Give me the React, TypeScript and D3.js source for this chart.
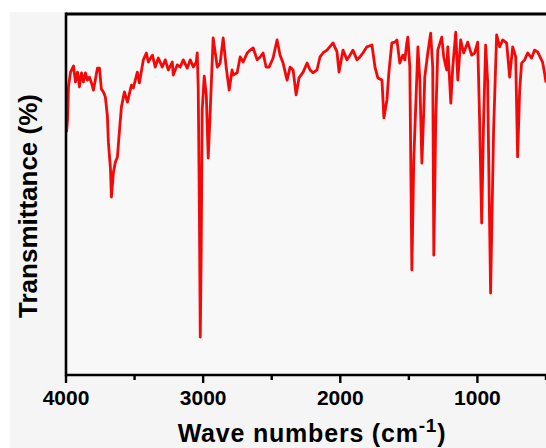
import React from "react";
import * as d3 from "d3";

const wavenumbers = [
  3996, 3989, 3982, 3967, 3945, 3931, 3916, 3902, 3887, 3873, 3858, 3844, 3829, 3814, 3800, 3785, 3771, 3756, 3742, 3727,
  3713, 3698, 3691, 3676, 3669, 3654, 3640, 3625, 3611, 3596, 3574, 3552, 3523, 3509, 3480, 3465, 3436, 3414, 3400, 3370,
  3349, 3327, 3298, 3276, 3254, 3225, 3218, 3189, 3167, 3145, 3116, 3094, 3072, 3050, 3043, 3036, 3028, 3021, 3014, 3007,
  2992, 2977, 2963, 2948, 2927, 2897, 2876, 2854, 2832, 2810, 2789, 2781, 2752, 2730, 2708, 2679, 2657, 2635, 2606, 2584,
  2563, 2541, 2519, 2490, 2461, 2439, 2417, 2388, 2366, 2344, 2322, 2301, 2271, 2242, 2220, 2199, 2170, 2148, 2126, 2097,
  2053, 2024, 2009, 1980, 1951, 1929, 1908, 1878, 1857, 1835, 1806, 1769, 1747, 1726, 1696, 1682, 1660, 1646, 1624, 1602,
  1587, 1566, 1544, 1529, 1515, 1507, 1493, 1478, 1464, 1434, 1420, 1405, 1391, 1384, 1362, 1341, 1326, 1318, 1304, 1289,
  1260, 1246, 1224, 1216, 1194, 1180, 1158, 1143, 1122, 1100, 1071, 1042, 1020, 998, 984, 969, 955, 940, 926, 904,
  882, 860, 838, 816, 787, 765, 743, 721, 707, 692, 678, 656, 634, 605, 583, 561, 525, 511, 500,
];

const transmittance = [
  67.3, 70.6, 79.8, 83.9, 85.6, 81.2, 83.9, 79.8, 83.7, 81.2, 83.7, 81.7, 82.5, 80.9, 78.9, 82.0, 85.0, 85.0, 79.2, 78.4,
  77.0, 71.7, 64.5, 57.3, 49.3, 56.2, 59.0, 60.4, 67.3, 74.2, 78.4, 75.6, 80.3, 79.5, 83.9, 80.9, 87.3, 89.2, 86.7, 88.6,
  85.3, 87.8, 85.3, 87.3, 84.5, 86.7, 83.1, 85.9, 85.3, 87.3, 85.0, 87.3, 85.3, 86.7, 89.2, 79.8, 48.5, 10.5, 34.6, 73.4,
  82.8, 77.6, 60.1, 73.4, 93.4, 85.3, 86.4, 93.4, 85.3, 78.9, 84.5, 83.1, 83.7, 88.1, 86.7, 89.2, 90.0, 90.6, 87.3, 88.1,
  89.2, 85.3, 85.3, 87.8, 92.8, 88.6, 86.4, 81.7, 85.3, 84.5, 77.6, 82.3, 83.9, 86.4, 84.5, 83.7, 84.5, 88.1, 89.2, 90.0,
  92.0, 89.5, 83.9, 90.0, 87.3, 88.6, 90.0, 87.3, 88.1, 89.2, 90.9, 91.4, 85.3, 82.3, 81.7, 71.2, 76.2, 83.7, 92.0, 92.2,
  92.8, 86.4, 88.6, 87.3, 92.0, 93.6, 85.3, 29.1, 59.6, 90.9, 81.7, 58.7, 73.4, 82.5, 89.2, 94.7, 85.3, 33.2, 70.6, 90.0,
  93.6, 88.1, 84.5, 90.9, 75.3, 85.3, 95.0, 81.7, 92.8, 89.2, 92.2, 88.6, 89.2, 92.2, 70.6, 42.1, 70.6, 91.4, 81.7, 22.7,
  67.9, 94.2, 90.9, 92.8, 92.0, 82.5, 90.9, 88.1, 60.4, 78.9, 86.4, 87.3, 89.2, 87.8, 90.0, 89.5, 86.7, 83.7, 81.0,
];

const majorTicks = [4000, 3000, 2000, 1000];
const minorTicks = [3500, 2500, 1500, 500];

const W = 546;
const H = 448;
const left = 66;
const right = 546;
const top = 14;
const bottom = 375;

export default function App() {
  const x = d3.scaleLinear().domain([4000, 500]).range([left, right]);
  const y = d3.scaleLinear().domain([0, 100]).range([bottom, top]);
  const pts: [number, number][] = wavenumbers.map((w, i) => [w, transmittance[i]]);
  const line = d3
    .line<[number, number]>()
    .x((d) => x(d[0]))
    .y((d) => y(d[1]))
    .curve(d3.curveLinear);
  const font = "'Liberation Sans', Arial, sans-serif";
  return (
    <svg width={W} height={H} style={{ position: "absolute", left: 0, top: 0 }}>
      <rect x={0} y={0} width={W} height={H} fill="#ffffff" />
      <rect x={10} y={12} width={W - 10} height={H - 12} fill="#f5f5f5" />
      <rect x={left} y={top} width={right - left + 10} height={bottom - top} fill="#f8f8f8" />
      <path d={line(pts) || ""} fill="none" stroke="#f50808" strokeWidth={2.8} strokeLinejoin="round" />
      {/* frame */}
      <line x1={left} x2={right + 5} y1={top} y2={top} stroke="#000" strokeWidth={3} />
      <line x1={left} x2={right + 5} y1={bottom} y2={bottom} stroke="#000" strokeWidth={2.6} />
      <line x1={left} x2={left} y1={top - 1.5} y2={bottom + 1.3} stroke="#000" strokeWidth={2.6} />
      {majorTicks.map((t) => (
        <line key={"M" + t} x1={x(t)} x2={x(t)} y1={bottom} y2={bottom + 8} stroke="#000" strokeWidth={2.4} />
      ))}
      {minorTicks.map((t) => (
        <line key={"m" + t} x1={x(t)} x2={x(t)} y1={bottom} y2={bottom + 5} stroke="#000" strokeWidth={2.4} />
      ))}
      {majorTicks.map((t) => (
        <text
          key={"l" + t}
          x={x(t)}
          y={405}
          textAnchor="middle"
          fontFamily={font}
          fontWeight="bold"
          fontSize={21}
          fill="#000"
        >
          {t}
        </text>
      ))}
      <text
        x={312}
        y={442}
        textAnchor="middle"
        fontFamily={font}
        fontWeight="bold"
        fontSize={25}
        letterSpacing={0.8}
        fill="#000"
      >
        Wave numbers (cm
        <tspan dy={-10} fontSize={19}>-1</tspan>
        <tspan dy={10}>)</tspan>
      </text>
      <text
        transform="translate(37,206) rotate(-90)"
        textAnchor="middle"
        fontFamily={font}
        fontWeight="bold"
        fontSize={26}
        fill="#000"
      >
        Transmittance (%)
      </text>
    </svg>
  );
}
